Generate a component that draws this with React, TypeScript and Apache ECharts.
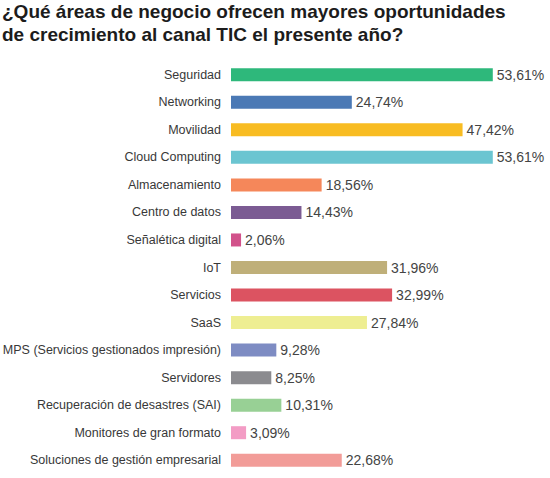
import React, { useEffect, useRef } from 'react';
import * as echarts from 'echarts';

const categories = [
  'Seguridad',
  'Networking',
  'Movilidad',
  'Cloud Computing',
  'Almacenamiento',
  'Centro de datos',
  'Señalética digital',
  'IoT',
  'Servicios',
  'SaaS',
  'MPS (Servicios gestionados impresión)',
  'Servidores',
  'Recuperación de desastres (SAI)',
  'Monitores de gran formato',
  'Soluciones de gestión empresarial',
];

const values = [53.61, 24.74, 47.42, 53.61, 18.56, 14.43, 2.06, 31.96, 32.99, 27.84, 9.28, 8.25, 10.31, 3.09, 22.68];

const barColors = [
  '#2eb87b',
  '#4b79b5',
  '#f8bc22',
  '#6bc5d1',
  '#f5875a',
  '#7b5b93',
  '#d2528b',
  '#bfaf79',
  '#dc5361',
  '#eeee92',
  '#7e8cc3',
  '#8b8b8f',
  '#98d095',
  '#f39cc5',
  '#f29c98',
];

const titleText = '¿Qué áreas de negocio ofrecen mayores oportunidades\nde crecimiento al canal TIC el presente año?';

const App: React.FC = () => {
  const chartRef = useRef<HTMLDivElement>(null);

  useEffect(() => {
    if (!chartRef.current) return;
    const chart = echarts.init(chartRef.current, undefined, { renderer: 'svg' });

    chart.setOption({
      animation: false,
      backgroundColor: '#ffffff',
      title: {
        text: titleText,
        left: 2,
        top: 0,
        padding: 0,
        textStyle: {
          fontFamily: 'Liberation Sans',
          fontWeight: 'bold',
          fontSize: 19,
          lineHeight: 23,
          color: '#1c1c1c',
        },
      },
      grid: {
        left: 231,
        right: 26,
        top: 61,
        bottom: 4,
        containLabel: false,
        outerBoundsMode: 'none',
      },
      xAxis: {
        type: 'value',
        min: 0,
        max: 60,
        show: false,
      },
      yAxis: {
        type: 'category',
        data: categories,
        inverse: true,
        axisLine: { show: false },
        axisTick: { show: false },
        axisLabel: {
          margin: 10,
          color: '#383838',
          fontFamily: 'Liberation Sans',
          fontSize: 12.5,
        },
      },
      series: [
        {
          type: 'bar',
          barWidth: 13,
          data: values.map((v, i) => ({ value: v, itemStyle: { color: barColors[i] } })),
          label: {
            show: true,
            position: 'right',
            distance: 4,
            color: '#444444',
            fontFamily: 'Liberation Sans',
            fontSize: 14,
            formatter: (p: any) => p.value.toFixed(2).replace('.', ',') + '%',
          },
        },
      ],
    });

    return () => {
      chart.dispose();
    };
  }, []);

  return (
    <div
      ref={chartRef}
      style={{ position: 'fixed', left: 0, top: 0, width: '550px', height: '478px' }}
    />
  );
};

export default App;
